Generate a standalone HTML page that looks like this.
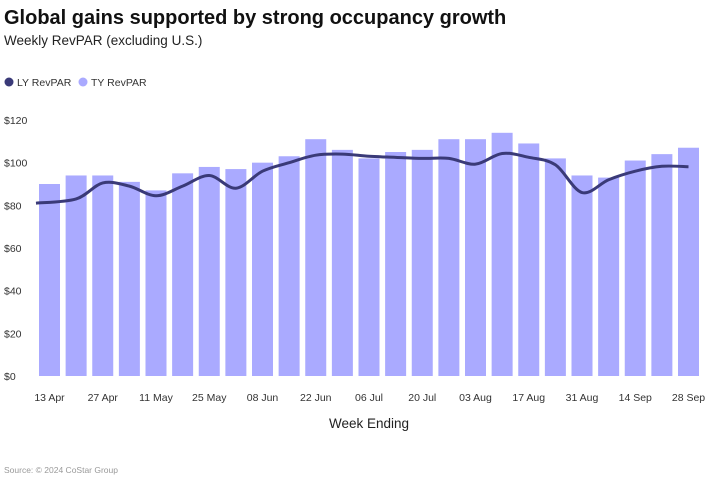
<!DOCTYPE html>
<html><head><meta charset="utf-8"><style>
body{margin:0;background:#fff;font-family:"Liberation Sans",sans-serif;}
svg text{font-family:"Liberation Sans",sans-serif;}
</style></head><body>
<svg id="c" width="707" height="481" xmlns="http://www.w3.org/2000/svg">
<text x="4" y="24" font-size="20" font-weight="bold" fill="#111">Global gains supported by strong occupancy growth</text>
<text x="4" y="45" font-size="13.5" fill="#222">Weekly RevPAR (excluding U.S.)</text>
<circle cx="9" cy="82" r="4.5" fill="#3a3a78"/>
<text x="17" y="86" font-size="10.5" fill="#333">LY RevPAR</text>
<circle cx="83" cy="82" r="4.5" fill="#aaaaff"/>
<text x="91" y="86" font-size="10.5" fill="#333">TY RevPAR</text>
<g id="g"></g>
<text x="369" y="428" font-size="13.5" fill="#222" text-anchor="middle">Week Ending</text>
<text x="4" y="473" font-size="8.5" fill="#999">Source: © 2024 CoStar Group</text>
</svg>
<script>
var g=document.getElementById('g'),s='';
function Y(v){return 376-v*256/120;}
for(var v=0;v<=120;v+=20){s+='<text x="4" y="'+(Y(v)+4)+'" font-size="10.5" fill="#333">$'+v+'</text>';}
var ty=[90,94,94,91,87,95,98,97,100,103,111,106,102,105,106,111,111,114,109,102,94,93,101,104,107];
var ly=[81,83,90.5,89,84.5,89,94,88,96,100,103.5,104,103,102.5,102,102,99.3,104.3,102.5,99,86,92,96,98.3,98.1];
var labs=['13 Apr','27 Apr','11 May','25 May','08 Jun','22 Jun','06 Jul','20 Jul','03 Aug','17 Aug','31 Aug','14 Sep','28 Sep'];
var sp=(688.5-49.5)/24;
for(var i=0;i<25;i++){var cx=49.5+sp*i;s+='<rect x="'+(cx-10.5)+'" y="'+Y(ty[i])+'" width="21" height="'+(376-Y(ty[i]))+'" fill="#aaaaff"/>';}
for(var i=0;i<13;i++){var cx=49.5+sp*2*i;s+='<text x="'+cx+'" y="401" font-size="10.5" fill="#333" text-anchor="middle">'+labs[i]+'</text>';}
var P=ly.map(function(v,i){return [49.5+sp*i,Y(v)];});
P[0][0]=36;
var d='M'+P[0][0]+','+P[0][1];
for(var i=0;i<P.length-1;i++){var p0=P[i-1]||P[i],p1=P[i],p2=P[i+1],p3=P[i+2]||P[i+1];
d+=' C'+(p1[0]+(p2[0]-p0[0])/6)+','+(p1[1]+(p2[1]-p0[1])/6)+' '+(p2[0]-(p3[0]-p1[0])/6)+','+(p2[1]-(p3[1]-p1[1])/6)+' '+p2[0]+','+p2[1];}
s+='<path d="'+d+'" fill="none" stroke="#3a3a78" stroke-width="3"/>';
g.innerHTML=s;
</script>
</body></html>
